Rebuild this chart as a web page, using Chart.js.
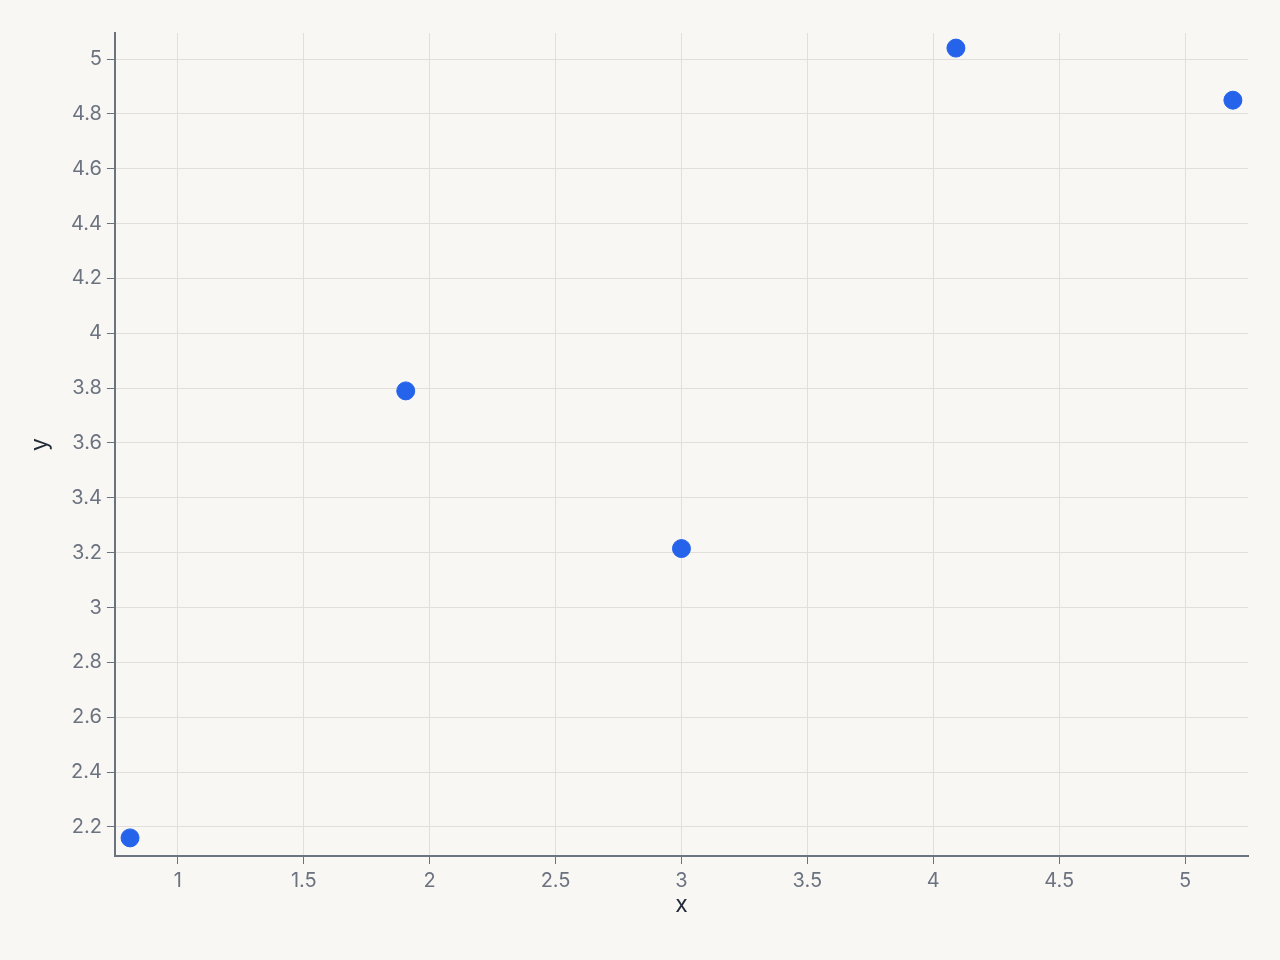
<!DOCTYPE html>
<html>
<head>
<meta charset="utf-8">
<script src="https://cdn.jsdelivr.net/npm/chart.js@4.4.1/dist/chart.umd.min.js"></script>
<style>
  html, body { margin: 0; padding: 0; background: #f9f7f3; }
  #wrap { width: 1280px; height: 960px; }
</style>
</head>
<body>
<div id="wrap"><canvas id="chart" width="1280" height="960"></canvas></div>
<script>
// data
const xValues = [0.81, 1.905, 3.0, 4.09, 5.19];
const yValues = [2.16, 3.79, 3.215, 5.04, 4.85];

// tick labels
const xTicks = [1, 1.5, 2, 2.5, 3, 3.5, 4, 4.5, 5];
const yTicks = [2.2, 2.4, 2.6, 2.8, 3, 3.2, 3.4, 3.6, 3.8, 4, 4.2, 4.4, 4.6, 4.8, 5];

const axisColor = '#6b7280';
const gridColor = '#e2dfda';
const titleColor = '#1f2937';
const fontFamily = 'Inter, "Noto Sans", sans-serif';

const points = xValues.map((x, i) => ({ x: x, y: yValues[i] }));

const bgPlugin = {
    id: 'bg',
    beforeDraw(chart) {
        const c = chart.ctx;
        c.save();
        c.fillStyle = '#f9f7f3';
        c.fillRect(0, 0, chart.width, chart.height);
        c.restore();
    }
};

const fmt = v => String(+v.toFixed(2));

new Chart(document.getElementById('chart'), {
    type: 'scatter',
    data: {
        datasets: [{
            label: 'points',
            data: points,
            backgroundColor: '#2563eb',
            borderColor: '#2563eb',
            borderWidth: 1,
            pointRadius: 9,
            pointHoverRadius: 9
        }]
    },
    options: {
        responsive: false,
        animation: false,
        layout: { padding: { left: 29, right: 32, top: 33, bottom: 43 } },
        plugins: {
            legend: { display: false },
            tooltip: { enabled: false }
        },
        scales: {
            x: {
                type: 'linear',
                min: 0.75,
                max: 5.25,
                afterBuildTicks: s => { s.ticks = xTicks.map(v => ({ value: v })); },
                border: { color: axisColor, width: 2 },
                grid: { color: gridColor, tickColor: axisColor, tickLength: 8 },
                ticks: {
                    color: axisColor,
                    font: { family: fontFamily, size: 20 },
                    padding: 5,
                    callback: fmt
                },
                title: {
                    display: true,
                    text: 'x',
                    color: titleColor,
                    font: { family: fontFamily, size: 23, lineHeight: 1 },
                    padding: { top: -4, bottom: 0 }
                }
            },
            y: {
                type: 'linear',
                min: 2.094,
                max: 5.095,
                afterBuildTicks: s => { s.ticks = yTicks.map(v => ({ value: v })); },
                border: { color: axisColor, width: 2 },
                grid: { color: gridColor, tickColor: axisColor, tickLength: 8 },
                ticks: {
                    color: axisColor,
                    font: { family: fontFamily, size: 20 },
                    padding: 5,
                    callback: fmt
                },
                title: {
                    display: true,
                    text: 'y',
                    color: titleColor,
                    font: { family: fontFamily, size: 23, lineHeight: 1 },
                    padding: { top: 0, bottom: 14 }
                }
            }
        }
    },
    plugins: [bgPlugin]
});
</script>
</body>
</html>
